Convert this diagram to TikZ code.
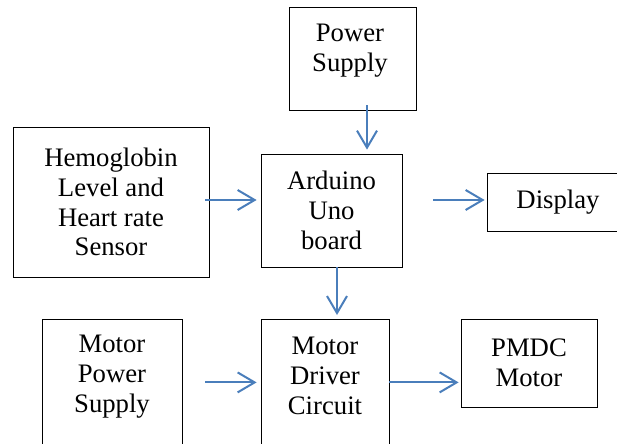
\documentclass[tikz,border=0pt]{standalone}
\usepackage{fontspec}
\setmainfont{Liberation Serif}
\usetikzlibrary{arrows.meta}
\definecolor{flowblue}{HTML}{4A7EBB}

\begin{document}
\begin{tikzpicture}[
    x=1bp, y=-1bp,
    every node/.style={font=\fontsize{26.8}{30}\selectfont, align=center},
    block/.style={draw, line width=0.8bp, inner sep=0pt},
    label/.style={inner sep=0pt},
    flow/.style={draw=flowblue, line width=2bp, -{Straight Barb[length=17bp, width=20bp, line width=2bp]}}
]
    \clip (0,0) rectangle (617,444);

    % Top row: supply
    \node[block, minimum width=127bp, minimum height=103bp] (pwr) at (352.5,58.5) {};
    \node[label] (pwrText) at (350,51) {Power\\Supply};

    % Middle row: sensor, controller, display
    \node[block, minimum width=196bp, minimum height=150bp] (sensor) at (111,202) {Hemoglobin\\Level and\\Heart rate\\Sensor};
    \node[block, minimum width=141bp, minimum height=113bp] (uno) at (331.5,210.5) {Arduino\\Uno\\board};
    \node[block, minimum width=142bp, minimum height=58bp] (disp) at (558,202) {Display};

    % Bottom row: motor side (boxes run off the page)
    \node[block, anchor=north, minimum width=140bp, minimum height=128bp] (mps) at (112,319) {};
    \node[label] (mpsText) at (112,377) {Motor\\Power\\Supply};
    \node[block, anchor=north, minimum width=128bp, minimum height=128bp] (drv) at (325,319) {};
    \node[label] (drvText) at (325,376) {Motor\\Driver\\Circuit};
    \node[block, minimum width=136bp, minimum height=88bp] (pmdc) at (529,363) {PMDC\\Motor};

    % Connectors
    \draw[flow, shorten <=-5bp, shorten >=4bp] ([xshift=14.5bp]pwr.south) -- ([xshift=14.5bp]pwr.south |- uno.north);
    \draw[flow, shorten <=-4bp, shorten >=4bp] ([yshift=2bp]sensor.east) -- ([yshift=2bp]sensor.east -| uno.west);
    \draw[flow, shorten <=31bp, shorten >=2bp] ([yshift=2bp]disp.west -| uno.east) -- ([yshift=2bp]disp.west);
    \draw[flow, shorten >=4bp] ([xshift=5.5bp]uno.south) -- ([xshift=5.5bp]uno.south |- drv.north);
    \draw[flow, shorten <=23bp, shorten >=4bp] ([yshift=1bp]mps.east) -- ([yshift=1bp]mps.east -| drv.west);
    \draw[flow, shorten >=2bp] ([yshift=1bp]drv.east) -- ([yshift=1bp]drv.east -| pmdc.west);

\end{tikzpicture}
\end{document}
